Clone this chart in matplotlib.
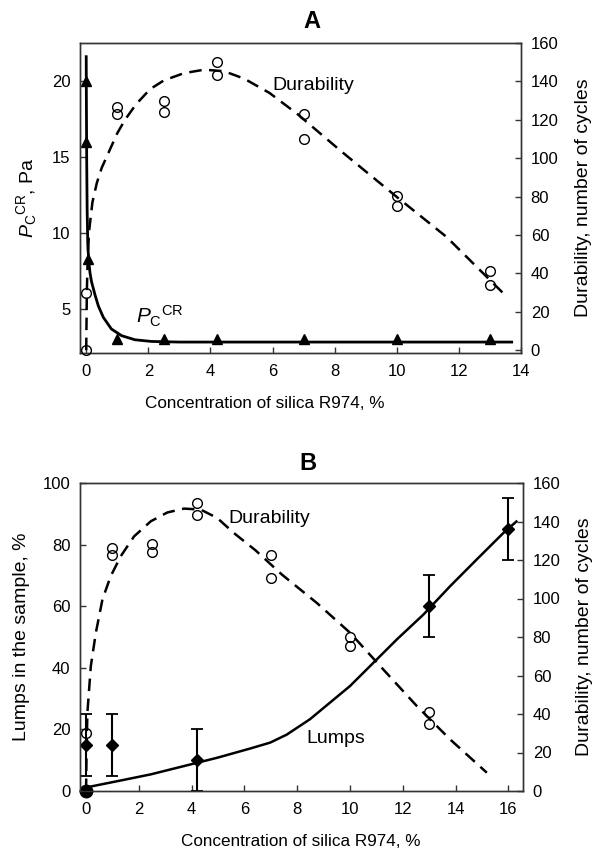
import matplotlib
matplotlib.use('Agg')
import matplotlib.pyplot as plt

plt.rcParams['font.family'] = ['Liberation Sans', 'DejaVu Sans']
plt.rcParams['mathtext.fontset'] = 'custom'
plt.rcParams['mathtext.rm'] = 'Liberation Sans'
plt.rcParams['mathtext.it'] = 'Liberation Sans:italic'
plt.rcParams['mathtext.bf'] = 'Liberation Sans:bold'

# ---------------- data: panel A ----------------
pc_x = [0, 0, 0.05, 1, 2.5, 4.2, 7, 10, 13]
pc_y = [20.0, 16.0, 8.3, 3.05, 3.0, 3.0, 3.0, 3.0, 3.0]
pc_curve_x = [0, 0.005, 0.015, 0.03, 0.05, 0.08, 0.12, 0.17, 0.28, 0.39, 0.55, 0.81,
              1.14, 1.57, 2.1, 3.0, 13.7]
pc_curve_y = [21.6, 19.0, 15.0, 11.5, 9.3, 8.2, 7.4, 6.8, 5.95, 5.2, 4.45, 3.68,
              3.24, 2.97, 2.86, 2.82, 2.82]

durA_x = [0, 0, 1, 1, 2.5, 2.5, 4.2, 4.2, 7, 7, 10, 10, 13, 13]
durA_y = [30, 0, 126.6, 123.2, 129.6, 123.9, 150, 143.1, 122.8, 110.2, 80.2, 75.1, 41.3, 33.9]
durA_curve_x = [0, 0.02, 0.05, 0.1, 0.2, 0.34, 0.5, 0.75, 1.0, 1.25, 1.6, 2.06, 2.5,
                3.15, 3.8, 4.44, 5.09, 5.9, 6.8, 8.18, 10.0, 11.6, 13.43]
durA_curve_y = [0, 30, 50, 63, 77, 87, 95, 104, 113, 120, 128, 136, 140.5,
                144.3, 146.1, 145.3, 141.4, 134, 123, 104, 79.8, 59, 29.6]

# ---------------- data: panel B ----------------
lumps_x = [0, 1, 4.2, 13, 16]
lumps_y = [15, 15, 10, 60, 85]
lumps_err = [10, 10, 10, 10, 10]
lumps_zero_x = [0]
lumps_zero_y = [0]
lumps_curve_x = [-0.03, 1.19, 2.45, 3.71, 4.97, 6.22, 6.97, 7.6, 8.48, 9.24, 10.0, 10.88,
                 11.77, 12.78, 13.79, 14.8, 15.81, 16.3]
lumps_curve_y = [1.1, 3.2, 5.4, 8.1, 10.8, 13.8, 15.7, 18.3, 23.3, 28.7, 34.1, 41.6,
                 49.2, 57.3, 66.5, 75.2, 83.8, 87.5]

durB_x = [0, 1, 1, 2.5, 2.5, 4.2, 4.2, 7, 7, 10, 10, 13, 13]
durB_y = [30.3, 126.3, 122.8, 128.3, 124.0, 149.6, 143.6, 122.8, 110.4, 80.1, 75.2, 41.2, 34.6]
durB_curve_x = [0, 0.02, 0.05, 0.18, 0.37, 0.62, 0.93, 1.31, 1.82, 2.45, 3.08, 3.71, 4.34,
                4.97, 5.6, 6.42, 7.42, 8.74, 10.0, 11.26, 12.53, 13.79, 15.18]
durB_curve_y = [0, 22, 40.7, 64.9, 82.2, 99.5, 111.5, 121.9, 132.3, 140.1, 144.7, 146.7, 146.2,
                141.8, 134, 125, 112.4, 97.7, 82.2, 63.1, 44.1, 26.8, 9.5]

xticksA = [0, 2, 4, 6, 8, 10, 12, 14]
yticksA = [5, 10, 15, 20]
xticksB = [0, 2, 4, 6, 8, 10, 12, 14, 16]
yticksB = [0, 20, 40, 60, 80, 100]
rticks = [0, 20, 40, 60, 80, 100, 120, 140, 160]

W, H = 594, 850
fig = plt.figure(figsize=(W / 100, H / 100), dpi=100)


def box(l, t, r, b):
    return [l / W, 1 - b / H, (r - l) / W, (b - t) / H]


def fx(x):
    return x / W


def fy(y):
    return 1 - y / H


SPC = '#333333'
DASH = (0, (5, 3))


def style(ax):
    for s in ax.spines.values():
        s.set_color(SPC)
        s.set_linewidth(1.0)
    ax.tick_params(direction='in', length=4, width=1, color=SPC, labelsize=12)
    ax.tick_params(axis='x', pad=8)
    ax.tick_params(axis='y', pad=7)


# ================= Panel A =================
axA = fig.add_axes(box(80, 43, 521, 353))
axA2 = axA.twinx()
axA.set_xlim(-0.2, 14)
axA.set_ylim(2.1, 22.5)
axA2.set_ylim(-1.5, 160)
axA.set_xticks(xticksA)
axA.set_yticks(yticksA)
axA2.set_yticks(rticks)
style(axA)
style(axA2)

axA.plot(pc_curve_x, pc_curve_y, color='black', lw=2.0, zorder=3, solid_joinstyle='round')
axA.plot(pc_x, pc_y, linestyle='none', marker='^', ms=7.5, color='black', clip_on=False, zorder=4)
axA2.plot(durA_curve_x, durA_curve_y, color='black', lw=1.8, linestyle=DASH, zorder=3)
axA2.plot(durA_x, durA_y, linestyle='none', marker='o', ms=7, mfc='none', mec='black',
          mew=1.0, clip_on=False, zorder=4)

axA.set_ylabel(r'$P_{\mathrm{C}}{}^{\mathrm{CR}}$, Pa', fontsize=14)
axA.yaxis.set_label_coords((27 - 80) / 441, 0.5)
axA.yaxis.label.set_va('center')
axA2.set_ylabel('Durability, number of cycles', fontsize=14)
axA2.yaxis.set_label_coords((583.5 - 80) / 441, 0.5)
axA2.yaxis.label.set_va('center')

fig.text(fx(264.5), fy(403), 'Concentration of silica R974, %', fontsize=12.3,
         ha='center', va='center')
fig.text(fx(311.7), fy(22), 'A', fontsize=17, fontweight='bold', ha='center', va='center')
fig.text(fx(272.7), fy(85), 'Durability', fontsize=14, ha='left', va='center')
fig.text(fx(136), fy(316), r'$P_{\mathrm{C}}{}^{\mathrm{CR}}$', fontsize=15, ha='left', va='center')

# ================= Panel B =================
axB = fig.add_axes(box(80, 483, 523, 791))
axB2 = axB.twinx()
axB.set_xlim(-0.23, 16.55)
axB.set_ylim(0, 100)
axB2.set_ylim(0, 160)
axB.set_xticks(xticksB)
axB.set_yticks(yticksB)
axB2.set_yticks(rticks)
style(axB)
style(axB2)

axB.plot(lumps_curve_x, lumps_curve_y, color='black', lw=1.8, zorder=3, solid_joinstyle='round')
axB.errorbar(lumps_x, lumps_y, yerr=lumps_err, fmt='D', ms=6.5, color='black',
             ecolor='black', elinewidth=1.5, capsize=4.5, capthick=1.3, zorder=4)
axB.plot(lumps_zero_x, lumps_zero_y, linestyle='none', marker='o', ms=9, color='black',
         clip_on=False, zorder=5)
axB2.plot(durB_curve_x, durB_curve_y, color='black', lw=1.8, linestyle=DASH, zorder=3)
axB2.plot(durB_x, durB_y, linestyle='none', marker='o', ms=7, mfc='none', mec='black',
          mew=1.0, clip_on=False, zorder=4)

axB.set_ylabel('Lumps in the sample, %', fontsize=14)
axB.yaxis.set_label_coords((22 - 80) / 443, 0.5)
axB.yaxis.label.set_va('center')
axB2.set_ylabel('Durability, number of cycles', fontsize=14)
axB2.yaxis.set_label_coords((584.5 - 80) / 443, 0.5)
axB2.yaxis.label.set_va('center')

fig.text(fx(301), fy(841.7), 'Concentration of silica R974, %', fontsize=12.3,
         ha='center', va='center')
fig.text(fx(308), fy(463), 'B', fontsize=17, fontweight='bold', ha='center', va='center')
fig.text(fx(228.3), fy(518.3), 'Durability', fontsize=14, ha='left', va='center')
fig.text(fx(306), fy(738.3), 'Lumps', fontsize=14, ha='left', va='center')

fig.savefig('out.png', dpi=100)
